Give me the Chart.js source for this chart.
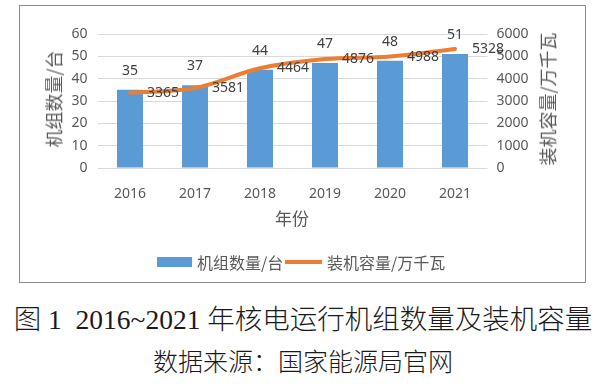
<!DOCTYPE html>
<html>
<head>
<meta charset="utf-8">
<script src="https://cdn.jsdelivr.net/npm/chart.js@4"></script>
<style>
  body { margin: 0; width: 600px; height: 384px; background: #fff; position: relative; overflow: hidden; }
  #box { position: absolute; left: 19px; top: 5px; width: 565px; height: 276px; border: 1px solid #8a8a8a; }
  #box canvas { position: absolute; left: 0; top: 0; }
  .t { position: absolute; color: #595959; font-family: "Noto Sans CJK SC", "Noto Sans", sans-serif; white-space: nowrap; line-height: 1; }
  .rot { transform: translate(-50%, -50%) rotate(-90deg); }
  .ctr { transform: translate(-50%, -50%); }
  .cap { position: absolute; left: 0; width: 606px; text-align: center; white-space: nowrap; color: #1a1a1a; line-height: 1; font-weight: 300; }
</style>
</head>
<body>
<div id="box"><canvas id="chart" width="565" height="276"></canvas></div>

<div class="t rot" style="left:53px; top:99px; font-size:18px;">机组数量/台</div>
<div class="t rot" style="left:547px; top:99px; font-size:18px;">装机容量/万千瓦</div>
<div class="t ctr" style="left:292px; top:217px; font-size:17px;">年份</div>

<div style="position:absolute; left:157px; top:257px; width:35px; height:10px; background:#5B9BD5;"></div>
<div class="t" style="left:197px; top:254px; font-size:16px;">机组数量/台</div>
<div style="position:absolute; left:285px; top:260px; width:37px; height:4px; background:#ED7D31;"></div>
<div class="t" style="left:327px; top:254px; font-size:16px;">装机容量/万千瓦</div>

<div class="cap" style="top:306px; font-size:27.5px; font-family:'Liberation Serif','Noto Sans CJK SC',serif;">图 1&nbsp;&nbsp;2016~2021 年核电运行机组数量及装机容量</div>
<div class="cap" style="top:348px; font-size:25px; font-family:'Noto Sans CJK SC',sans-serif;">数据来源：国家能源局官网</div>

<script>
const years = ['2016', '2017', '2018', '2019', '2020', '2021'];
const units = [35, 37, 44, 47, 48, 51];
const capacity = [3365, 3581, 4464, 4876, 4988, 5328];
const unitTicks = [0, 10, 20, 30, 40, 50, 60];
const capTicks = [0, 1000, 2000, 3000, 4000, 5000, 6000];

const labelFont = '14px "Noto Sans", sans-serif';

// data labels: bars above, line to the right of each point
const valueLabels = {
    id: 'valueLabels',
    afterDatasetsDraw(chart) {
        const ctx = chart.ctx;
        ctx.save();
        ctx.font = labelFont;
        ctx.fillStyle = '#404040';
        chart.getDatasetMeta(0).data.forEach((bar, i) => {
            ctx.textAlign = 'center';
            ctx.textBaseline = 'middle';
            ctx.fillText(units[i], bar.x, bar.y - 19);
        });
        chart.getDatasetMeta(1).data.forEach((pt, i) => {
            ctx.textAlign = 'left';
            ctx.textBaseline = 'middle';
            ctx.fillText(capacity[i], pt.x + 17, pt.y);
        });
        ctx.restore();
    }
};

const ctx = document.getElementById('chart').getContext('2d');
new Chart(ctx, {
    data: {
        labels: years,
        datasets: [
            {
                type: 'bar',
                label: '机组数量/台',
                data: units,
                backgroundColor: '#5B9BD5',
                borderWidth: 0,
                barPercentage: 0.4,
                categoryPercentage: 1.0,
                yAxisID: 'y',
                order: 2
            },
            {
                type: 'line',
                label: '装机容量/万千瓦',
                data: capacity,
                borderColor: '#ED7D31',
                borderWidth: 4,
                borderCapStyle: 'round',
                tension: 0.35,
                pointRadius: 0,
                fill: false,
                yAxisID: 'y1',
                order: 1
            }
        ]
    },
    options: {
        responsive: false,
        animation: false,
        layout: { padding: { top: 28, bottom: 84, left: 0, right: 0 } },
        plugins: {
            legend: { display: false },
            tooltip: { enabled: false }
        },
        scales: {
            x: {
                grid: { display: false },
                border: { display: false },
                ticks: { color: '#595959', font: { family: 'Noto Sans', size: 14 }, padding: 10 },
                afterFit(scale) { scale.height = 30; }
            },
            y: {
                position: 'left',
                min: 0,
                max: 60,
                afterBuildTicks(scale) { scale.ticks = unitTicks.map(v => ({ value: v })); },
                grid: { color: '#D9D9D9', lineWidth: 1, drawTicks: false },
                border: { display: false },
                ticks: { color: '#595959', font: { family: 'Noto Sans', size: 14 }, padding: 10, callback: v => String(v) },
                afterFit(scale) { scale.width = 77.5; }
            },
            y1: {
                position: 'right',
                min: 0,
                max: 6000,
                afterBuildTicks(scale) { scale.ticks = capTicks.map(v => ({ value: v })); },
                grid: { display: false, drawTicks: false },
                border: { display: false },
                ticks: { color: '#595959', font: { family: 'Noto Sans', size: 14 }, padding: 9, callback: v => String(v) },
                afterFit(scale) { scale.width = 97.5; }
            }
        }
    },
    plugins: [valueLabels]
});
</script>
</body>
</html>
